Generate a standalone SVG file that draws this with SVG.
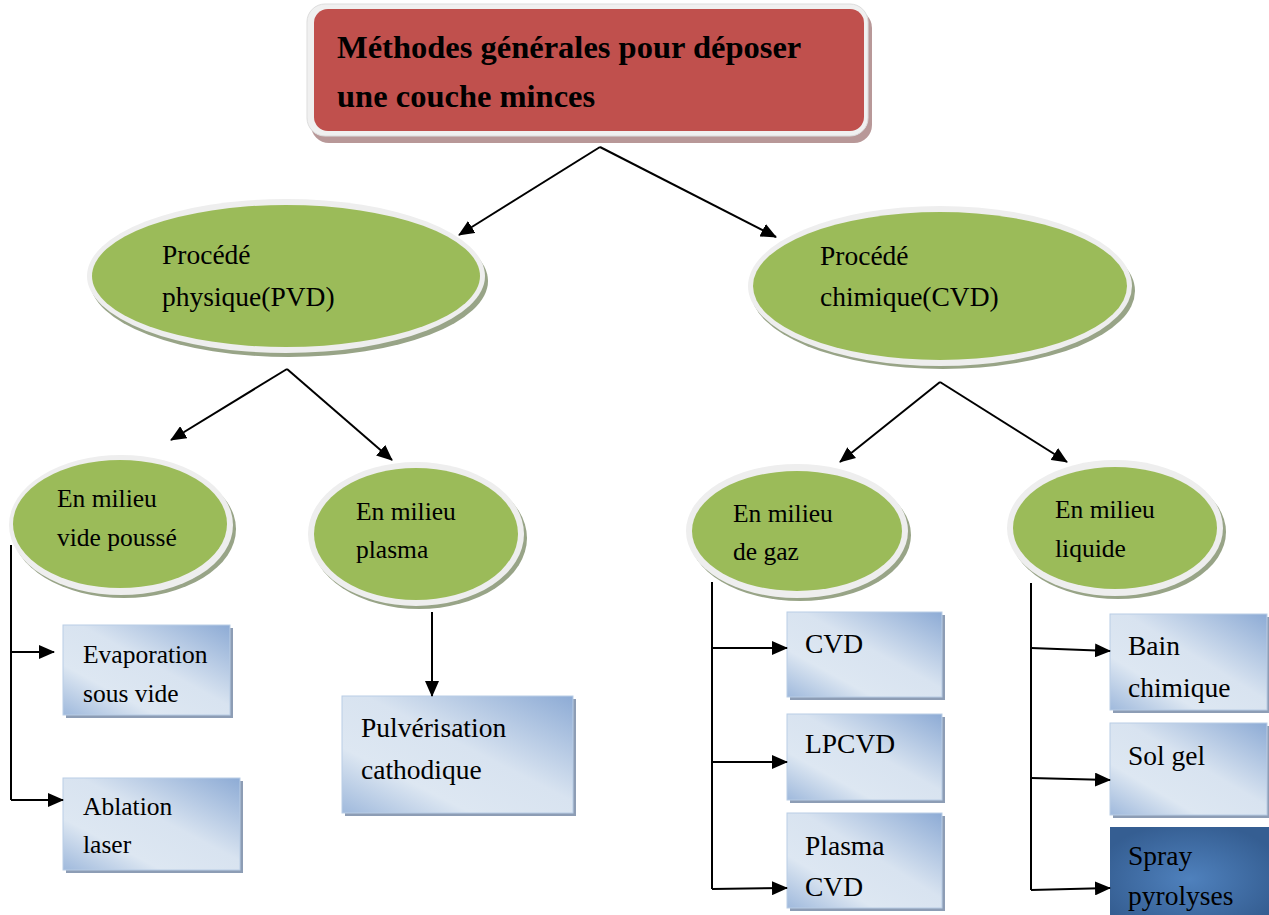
<svg xmlns="http://www.w3.org/2000/svg" width="1269" height="915" viewBox="0 0 1269 915">
<defs>
<style>
text{font-family:"Liberation Serif","Times New Roman",serif;fill:#000}
.t{font-size:32.5px;font-weight:bold}
.big{font-size:27.5px}
.sm{font-size:25.5px}
.bx{font-size:27.5px}
.bxs{font-size:25.5px}
.ring{fill:#eeeeee}
.shE{fill:#98a487}
.grn{fill:#9bbb59}
.box{fill:url(#boxg);stroke:#b9cde5;stroke-width:1}
.bsh{fill:#8d9db5}
.con{stroke:#000;stroke-width:2;fill:none}
.arr{marker-end:url(#ah)}
</style>
<linearGradient id="boxg" x1="1" y1="0" x2="0" y2="1">
<stop offset="0" stop-color="#8dabd5"/>
<stop offset="0.45" stop-color="#d8e3f0"/>
<stop offset="0.72" stop-color="#dde7f2"/>
<stop offset="1" stop-color="#9fb9dc"/>
</linearGradient>
<radialGradient id="darkg" cx="0.5" cy="0.55" r="0.6">
<stop offset="0" stop-color="#4f81bd"/>
<stop offset="1" stop-color="#355e92"/>
</radialGradient>
<marker id="ah" viewBox="0 0 16 14" refX="15" refY="7" markerWidth="16" markerHeight="14" markerUnits="userSpaceOnUse" orient="auto">
<path d="M0,0 L16,7 L0,14 z" fill="#000"/>
</marker>
</defs>
<rect width="1269" height="915" fill="#ffffff"/>

<g id="title">
<rect x="311" y="10" width="561" height="133" rx="18" fill="#b89898"/>
<rect x="307" y="4" width="561" height="132" rx="18" fill="#f0f0f0" stroke="#dddddd" stroke-width="1"/>
<rect x="314" y="9" width="550" height="122" rx="14" fill="#c0504d"/>
<text class="t" x="337" y="58">Méthodes générales pour déposer</text>
<text class="t" x="337" y="107">une couche minces</text>
</g>

<g id="pvd">
<ellipse class="shE" cx="289" cy="281" rx="199" ry="76"/>
<ellipse class="ring" cx="286" cy="276" rx="199" ry="77"/>
<ellipse class="grn" cx="286" cy="276" rx="194" ry="71"/>
<text class="big" x="162" y="264">Procédé</text>
<text class="big" x="162" y="306">physique(PVD)</text>
</g>

<g id="cvd">
<ellipse class="shE" cx="943" cy="291" rx="192" ry="78"/>
<ellipse class="ring" cx="940" cy="286" rx="192" ry="80"/>
<ellipse class="grn" cx="940" cy="286" rx="187" ry="74"/>
<text class="big" x="820" y="265">Procédé</text>
<text class="big" x="820" y="306">chimique(CVD)</text>
</g>

<g id="vide">
<ellipse class="shE" cx="124" cy="529" rx="112" ry="69"/>
<ellipse class="ring" cx="121" cy="525" rx="112" ry="70"/>
<ellipse class="grn" cx="120" cy="524" rx="107" ry="64"/>
<text class="sm" x="57" y="507">En milieu</text>
<text class="sm" x="57" y="546">vide poussé</text>
</g>

<g id="plasma">
<ellipse class="shE" cx="419" cy="538" rx="108" ry="71"/>
<ellipse class="ring" cx="416" cy="534" rx="108" ry="72"/>
<ellipse class="grn" cx="416" cy="534" rx="102" ry="66"/>
<text class="sm" x="356" y="520">En milieu</text>
<text class="sm" x="356" y="558">plasma</text>
</g>

<g id="gaz">
<ellipse class="shE" cx="800" cy="535" rx="111" ry="66"/>
<ellipse class="ring" cx="797" cy="531" rx="111" ry="67"/>
<ellipse class="grn" cx="797" cy="531" rx="105" ry="60"/>
<text class="sm" x="733" y="522">En milieu</text>
<text class="sm" x="733" y="560">de gaz</text>
</g>

<g id="liquide">
<ellipse class="shE" cx="1118" cy="532" rx="108" ry="67"/>
<ellipse class="ring" cx="1115" cy="528" rx="108" ry="68"/>
<ellipse class="grn" cx="1115" cy="528" rx="102" ry="61"/>
<text class="sm" x="1055" y="518">En milieu</text>
<text class="sm" x="1055" y="557">liquide</text>
</g>

<g id="evap">
<rect class="bsh" x="66" y="628" width="167" height="90"/>
<rect class="box" x="63" y="625" width="167" height="90"/>
<text class="bxs" x="83" y="663">Evaporation</text>
<text class="bxs" x="83" y="702">sous vide</text>
</g>

<g id="ablation">
<rect class="bsh" x="66" y="781" width="177" height="92"/>
<rect class="box" x="63" y="778" width="177" height="92"/>
<text class="bxs" x="83" y="815">Ablation</text>
<text class="bxs" x="83" y="853">laser</text>
</g>

<g id="pulv">
<rect class="bsh" x="345" y="699" width="231" height="117"/>
<rect class="box" x="342" y="696" width="231" height="117"/>
<text class="bx" x="361" y="737">Pulvérisation</text>
<text class="bx" x="361" y="779">cathodique</text>
</g>

<g id="b-cvd">
<rect class="bsh" x="790" y="615" width="155" height="85"/>
<rect class="box" x="787" y="612" width="155" height="85"/>
<text class="bx" x="805" y="653">CVD</text>
</g>

<g id="b-lpcvd">
<rect class="bsh" x="790" y="717" width="155" height="86"/>
<rect class="box" x="787" y="714" width="155" height="86"/>
<text class="bx" x="805" y="753">LPCVD</text>
</g>

<g id="b-pcvd">
<rect class="bsh" x="790" y="816" width="155" height="95"/>
<rect class="box" x="787" y="813" width="155" height="95"/>
<text class="bx" x="805" y="855">Plasma</text>
<text class="bx" x="805" y="896">CVD</text>
</g>

<g id="b-bain">
<rect class="bsh" x="1113" y="617" width="157" height="96"/>
<rect class="box" x="1110" y="614" width="157" height="96"/>
<text class="bx" x="1128" y="655">Bain</text>
<text class="bx" x="1128" y="697">chimique</text>
</g>

<g id="b-solgel">
<rect class="bsh" x="1113" y="726" width="157" height="92"/>
<rect class="box" x="1110" y="723" width="157" height="92"/>
<text class="bx" x="1128" y="765">Sol gel</text>
</g>

<g id="b-spray">
<rect x="1110" y="827" width="159" height="95" fill="url(#darkg)"/>
<text class="bx" x="1128" y="865">Spray</text>
<text class="bx" x="1128" y="905">pyrolyses</text>
</g>

<g id="connectors">
<line class="con arr" x1="600" y1="147" x2="459" y2="235"/>
<line class="con arr" x1="600" y1="147" x2="776" y2="237"/>
<line class="con arr" x1="287" y1="369" x2="171" y2="440"/>
<line class="con arr" x1="287" y1="369" x2="392" y2="460"/>
<line class="con arr" x1="940" y1="382" x2="840" y2="462"/>
<line class="con arr" x1="940" y1="382" x2="1067" y2="462"/>
<polyline class="con" points="11,545 11,800"/>
<line class="con arr" x1="11" y1="652" x2="54" y2="652"/>
<line class="con arr" x1="11" y1="800" x2="63" y2="800"/>
<line class="con arr" x1="432" y1="612" x2="432" y2="696"/>
<polyline class="con" points="712,582 712,889"/>
<line class="con arr" x1="712" y1="648" x2="787" y2="648"/>
<line class="con arr" x1="712" y1="762" x2="787" y2="762"/>
<line class="con arr" x1="712" y1="889" x2="787" y2="888"/>
<polyline class="con" points="1031,583 1031,890"/>
<line class="con arr" x1="1031" y1="648" x2="1110" y2="651"/>
<line class="con arr" x1="1031" y1="778" x2="1110" y2="780"/>
<line class="con arr" x1="1031" y1="890" x2="1110" y2="888"/>
</g>
</svg>
